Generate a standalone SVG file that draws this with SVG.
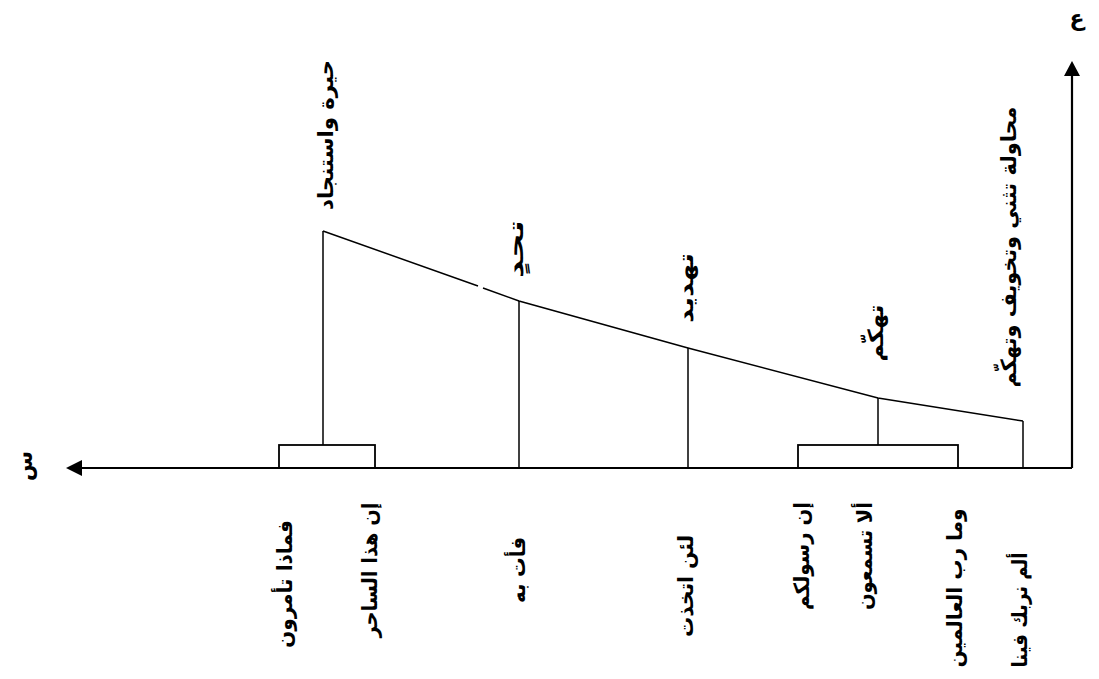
<svg xmlns="http://www.w3.org/2000/svg" width="1099" height="679" viewBox="0 0 1099 679">
<style>
.ln{stroke:#000;stroke-width:1.5;fill:none}
.ax{stroke:#000;stroke-width:2.2;fill:none}
.bx{stroke:#000;stroke-width:1.8;fill:#fff}
.t{font-family:"DejaVu Sans",sans-serif;font-weight:bold;font-size:21px;fill:#000;text-anchor:middle;dominant-baseline:central}
</style>
<rect width="1099" height="679" fill="#fff"/>
<g id="connectors">
<path class="ln" d="M323,231 L478,286 M483,288 L519,301 L688,348 L878,398 L1023,421"/>
<line class="ln" x1="323" y1="231" x2="323" y2="445"/>
<line class="ln" x1="519" y1="301" x2="519" y2="468"/>
<line class="ln" x1="688" y1="348" x2="688" y2="468"/>
<line class="ln" x1="878" y1="398" x2="878" y2="445"/>
<line class="ln" x1="1023" y1="421" x2="1023" y2="468"/>
</g>
<g id="box1"><rect class="bx" x="279" y="445" width="96" height="23"/></g>
<g id="box2"><rect class="bx" x="798" y="445" width="160" height="23"/></g>
<g id="axes">
<line class="ax" x1="1072" y1="468" x2="80" y2="468"/>
<path d="M66,468 L82,460 L82,476 z" fill="#000"/>
<line class="ax" x1="1072" y1="468" x2="1072" y2="76"/>
<path d="M1072,61 L1064,76 L1080,76 z" fill="#000"/>
<text class="t" transform="translate(24,466) rotate(-90)" style="font-size:22px">س</text>
<text class="t" x="1077" y="18" style="font-size:22px">ع</text>
</g>
<g id="top-labels">
<text class="t" transform="translate(326,135) rotate(-90)" textLength="150" lengthAdjust="spacingAndGlyphs">حيرة واستنجاد</text>
<text class="t" transform="translate(516,249) rotate(-90)" textLength="58" lengthAdjust="spacingAndGlyphs">تحدٍ</text>
<text class="t" transform="translate(686,288) rotate(-90)" textLength="70" lengthAdjust="spacingAndGlyphs">تهديد</text>
<text class="t" transform="translate(876,333) rotate(-90)" textLength="57" lengthAdjust="spacingAndGlyphs">تهكّم</text>
<text class="t" transform="translate(1009,247) rotate(-90)" textLength="281" lengthAdjust="spacingAndGlyphs">محاولة تثني وتخويف وتهكّم</text>
</g>
<g id="bottom-labels">
<text class="t" transform="translate(285,584) rotate(-90)" textLength="128" lengthAdjust="spacingAndGlyphs">فماذا تأمرون</text>
<text class="t" transform="translate(370,570) rotate(-90)" textLength="135" lengthAdjust="spacingAndGlyphs">إن هذا الساحر</text>
<text class="t" transform="translate(518,570) rotate(-90)" textLength="66" lengthAdjust="spacingAndGlyphs">فأت به</text>
<text class="t" transform="translate(686,586) rotate(-90)" textLength="102" lengthAdjust="spacingAndGlyphs">لئن اتخذت</text>
<text class="t" transform="translate(802,556) rotate(-90)" textLength="108" lengthAdjust="spacingAndGlyphs">إن رسولكم</text>
<text class="t" transform="translate(865,556) rotate(-90)" textLength="108" lengthAdjust="spacingAndGlyphs">ألا تسمعون</text>
<text class="t" transform="translate(955,588) rotate(-90)" textLength="159" lengthAdjust="spacingAndGlyphs">وما رب العالمين</text>
<text class="t" transform="translate(1020,610) rotate(-90)" textLength="115" lengthAdjust="spacingAndGlyphs">ألم نربك فينا</text>
</g>
</svg>
